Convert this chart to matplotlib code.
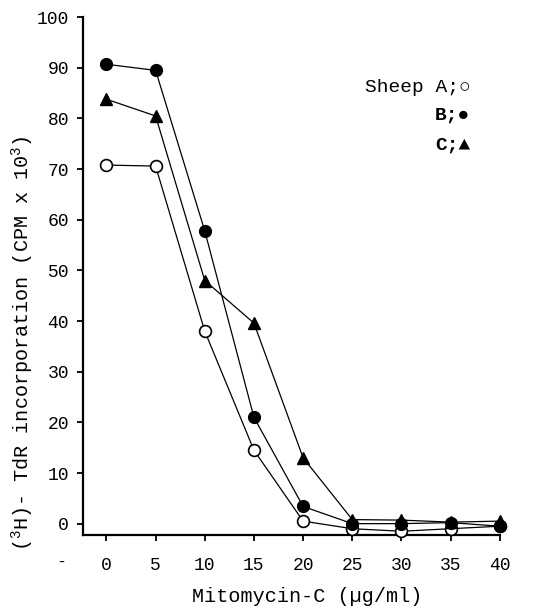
import matplotlib
matplotlib.use('Agg')
import matplotlib.pyplot as plt

# Mitomycin-C dose (ug/ml)
dose = [0, 5, 10, 15, 20, 25, 30, 35, 40]
# (3H)-TdR incorporation, CPM x 10^3
sheep_a = [70.8, 70.6, 38.0, 14.5, 0.5, -1.0, -1.5, -1.0, -0.5]
sheep_b = [90.7, 89.5, 57.8, 21.0, 3.4, 0.0, 0.0, 0.2, -0.5]
sheep_c = [83.8, 80.5, 48.0, 39.6, 13.0, 0.8, 0.7, 0.3, 0.5]

xticks = [0, 5, 10, 15, 20, 25, 30, 35, 40]
yticks = [0, 10, 20, 30, 40, 50, 60, 70, 80, 90, 100]

mono = ['Liberation Mono', 'DejaVu Sans Mono']
plt.rcParams['font.family'] = mono
plt.rcParams['mathtext.fontset'] = 'custom'
plt.rcParams['mathtext.rm'] = 'Liberation Mono'

fig = plt.figure(figsize=(5.45, 6.14), dpi=100)
ax = fig.add_axes([0.152, 0.129, 0.765, 0.843])

kw = dict(color='black', lw=0.9, markersize=8.5, clip_on=False, zorder=3)
ax.plot(dose, sheep_a, marker='o', markerfacecolor='white', markeredgewidth=1.2, **kw)
ax.plot(dose, sheep_b, marker='o', markerfacecolor='black', **kw)
ax.plot(dose, sheep_c, marker='^', markerfacecolor='black', **kw)

ax.set_xlim(-2.4, 40)
ax.set_ylim(-2.2, 100)
ax.set_xticks(xticks)
ax.set_yticks(yticks)
ax.tick_params(labelsize=13, length=4, width=1.3, direction='out')
ax.tick_params(axis='x', pad=12)
ax.tick_params(axis='y', pad=6)

for s in ['top', 'right']:
    ax.spines[s].set_visible(False)
for s in ['left', 'bottom']:
    ax.spines[s].set_linewidth(1.6)

ax.set_xlabel('Mitomycin-C (µg/ml)', fontsize=14.5)
ax.xaxis.set_label_coords(0.537, -0.100)
ax.set_ylabel(r'($^3$H)- TdR incorporation (CPM x 10$^3$)', fontsize=14.5)
ax.yaxis.set_label_coords(-0.112, 0.37)

# stray tick mark on the left of the x axis labels
ax.text(-4.6, -7.6, '-', fontsize=12, ha='center', va='center', clip_on=False)

# legend written as text
ax.text(37.0, 86.2, 'Sheep A;○', fontsize=14, ha='right', va='center')
ax.text(37.0, 80.6, 'B;●', fontsize=14, ha='right', va='center', fontweight='bold')
ax.text(37.0, 74.8, 'C;▲', fontsize=14, ha='right', va='center', fontweight='bold')

fig.savefig('out.png', dpi=100)
